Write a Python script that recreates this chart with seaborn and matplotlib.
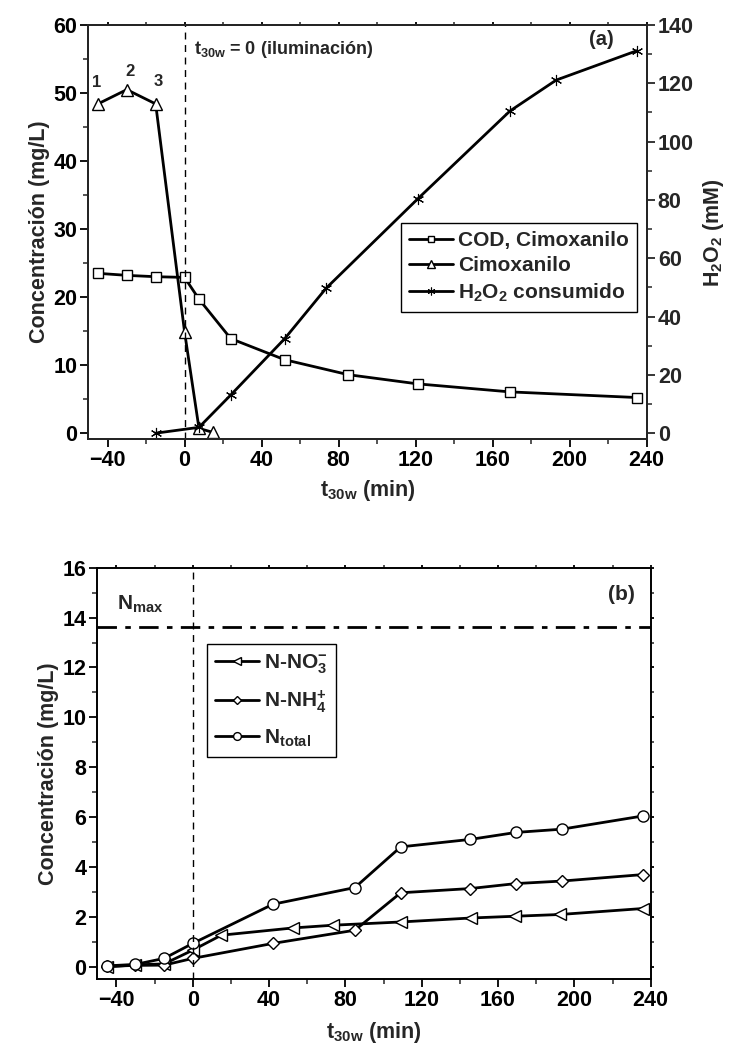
import matplotlib
matplotlib.use("Agg")
import matplotlib.pyplot as plt
import seaborn as sns
from matplotlib.ticker import MultipleLocator

# ---------------- data ----------------
# Panel (a)
t_cod = [-45, -30, -15, 0, 7.5, 24, 52, 85, 121, 169, 235]
cod = [23.5, 23.2, 23.0, 22.9, 19.7, 13.9, 10.8, 8.6, 7.25, 6.07, 5.24]

t_cimox = [-45, -30, -15, 0, 7.5, 15]
cimox = [48.4, 50.5, 48.4, 14.9, 0.7, 0.1]

t_h2o2 = [-15, 7.5, 24, 52, 73.5, 121, 169, 193, 235]
h2o2 = [0.0, 2.0, 13.1, 32.4, 49.7, 80.3, 110.5, 121.1, 131.2]

# Panel (b)
t_no3 = [-45, -30, -15, 0, 15, 52.5, 73.5, 109, 146, 169, 192.5, 236]
n_no3 = [0.0, 0.08, 0.12, 0.67, 1.27, 1.56, 1.67, 1.80, 1.96, 2.03, 2.10, 2.34]

t_nh4 = [-45, -30, -15, 0, 42, 85, 109, 145.5, 169.5, 193.5, 236]
n_nh4 = [0.02, 0.06, 0.07, 0.34, 0.94, 1.47, 2.97, 3.14, 3.34, 3.44, 3.70]

t_ntot = [-45, -30, -15, 0, 42, 85, 109, 145.5, 169.5, 193.5, 236]
n_tot = [0.04, 0.10, 0.34, 0.94, 2.51, 3.18, 4.81, 5.11, 5.39, 5.52, 6.05]

n_max = 13.63
point_labels = ["1", "2", "3"]

# ---------------- style ----------------
sns.set_style("ticks")
plt.rcParams["font.family"] = ["Liberation Sans", "DejaVu Sans"]
plt.rcParams["font.weight"] = "bold"
plt.rcParams["axes.labelweight"] = "bold"
plt.rcParams["mathtext.fontset"] = "custom"
plt.rcParams["mathtext.rm"] = "Liberation Sans:bold"
plt.rcParams["mathtext.it"] = "Liberation Sans:bold"
plt.rcParams["mathtext.bf"] = "Liberation Sans:bold"
plt.rcParams["mathtext.sf"] = "Liberation Sans:bold"
plt.rcParams["mathtext.default"] = "regular"

FS_TICK = 15.5
FS_LAB = 15.5
FS_LEG = 15
LW = 2.0
MS = 7

fig = plt.figure(figsize=(7.35, 10.55), dpi=100)


def style_axis(ax, xmaj, xmin, ymaj, ymin):
    ax.xaxis.set_major_locator(MultipleLocator(xmaj))
    ax.xaxis.set_minor_locator(MultipleLocator(xmin))
    ax.yaxis.set_major_locator(MultipleLocator(ymaj))
    ax.yaxis.set_minor_locator(MultipleLocator(ymin))
    ax.tick_params(which="major", direction="out", length=6, width=1.3,
                   labelsize=FS_TICK, colors="black", pad=2)
    ax.tick_params(which="minor", direction="out", length=3.5, width=1.1)
    for sp in ax.spines.values():
        sp.set_linewidth(1.4)
        sp.set_color("black")
        sp.set_visible(True)
    for lab in ax.get_xticklabels() + ax.get_yticklabels():
        lab.set_fontweight("bold")


def add_top_ticks(ax):
    # short unlabeled ticks along the top spine
    ax.tick_params(axis="x", which="both", top=True, labeltop=False)
    for tk in ax.xaxis.get_major_ticks() + ax.xaxis.get_minor_ticks():
        tk.tick2line.set_markersize(2.5)


# ---------------- panel (a) ----------------
axA = fig.add_axes([0.1201, 0.5836, 0.7597, 0.3927])
axA2 = axA.twinx()

sns.lineplot(x=t_cod, y=cod, ax=axA, color="black", lw=LW, marker="s",
             ms=MS, mfc="white", mec="black", mew=1.0,
             label="COD, Cimoxanilo", legend=False, sort=False)
sns.lineplot(x=t_cimox, y=cimox, ax=axA, color="black", lw=LW, marker="^",
             ms=MS + 2, mfc="white", mec="black", mew=1.0,
             label="Cimoxanilo", legend=False, sort=False)
sns.lineplot(x=t_h2o2, y=h2o2, ax=axA2, color="black", lw=LW, marker=(6, 2, 0),
             ms=MS + 1, mfc="black", mec="black", mew=0.8,
             label="H$_2$O$_2$ consumido", legend=False, sort=False)

axA.axvline(0, color="black", lw=1.0, ls=(0, (5, 4)))

axA.set_xlim(-50, 240)
axA.set_ylim(-0.9, 60)
axA2.set_ylim(-0.9 * 140 / 60, 140)

style_axis(axA, 40, 20, 10, 5)
axA.tick_params(axis="y", which="both", right=False)
add_top_ticks(axA)
axA2.yaxis.set_major_locator(MultipleLocator(20))
axA2.yaxis.set_minor_locator(MultipleLocator(10))
axA2.tick_params(axis="y", which="major", direction="out", length=6, width=1.3,
                 labelsize=FS_TICK, pad=2)
axA2.tick_params(axis="y", which="minor", direction="out", length=3.5, width=1.1)
for lab in axA2.get_yticklabels():
    lab.set_fontweight("bold")
for sp in axA2.spines.values():
    sp.set_linewidth(1.4)

axA.set_xlabel("t$_{30w}$ (min)", fontsize=FS_LAB, fontweight="bold", labelpad=5)
axA.set_ylabel("Concentración (mg/L)", fontsize=FS_LAB, fontweight="bold", labelpad=2)
axA2.set_ylabel("H$_2$O$_2$ (mM)", fontsize=FS_LAB, fontweight="bold", labelpad=5)

axA.text(4.7, 56.4, "t$_{30w}$ = 0 (iluminación)", fontsize=13, fontweight="bold",
         ha="left", va="center")
axA.text(216.4, 57.8, "(a)", fontsize=14.5, fontweight="bold", ha="center", va="center")
for lab, xx, yy in zip(point_labels, [-45.7, -28.5, -13.8], [51.6, 53.2, 51.7]):
    axA.text(xx, yy, lab, fontsize=12, fontweight="bold", ha="center", va="center")

hA1, lA1 = axA.get_legend_handles_labels()
hA2, lA2 = axA2.get_legend_handles_labels()
legA = axA2.legend(hA1 + hA2, lA1 + lA2, loc="upper right",
                   bbox_to_anchor=(0.983, 0.523), borderaxespad=0,
                   frameon=True, fancybox=False, edgecolor="black",
                   framealpha=1, fontsize=FS_LEG, handlelength=2.1,
                   handletextpad=0.25, borderpad=0.4, labelspacing=0.3,
                   markerscale=0.7)
legA.get_frame().set_linewidth(1.0)
for t in legA.get_texts():
    t.set_fontweight("bold")

# ---------------- panel (b) ----------------
axB = fig.add_axes([0.1324, 0.0717, 0.7529, 0.3902])

sns.lineplot(x=t_no3, y=n_no3, ax=axB, color="black", lw=LW, marker="<",
             ms=MS + 2, mfc="white", mec="black", mew=1.0,
             label="N-NO$_3^{-}$", legend=False, sort=False)
sns.lineplot(x=t_nh4, y=n_nh4, ax=axB, color="black", lw=LW, marker="D",
             ms=MS - 0.5, mfc="white", mec="black", mew=1.0,
             label="N-NH$_4^{+}$", legend=False, sort=False)
sns.lineplot(x=t_ntot, y=n_tot, ax=axB, color="black", lw=LW, marker="o",
             ms=MS + 1, mfc="white", mec="black", mew=1.0,
             label="N$_{total}$", legend=False, sort=False)

axB.axvline(0, color="black", lw=1.0, ls=(0, (5, 4)))
axB.axhline(n_max, color="black", lw=2.0, ls=(0, (7, 3, 2, 3)))

axB.set_xlim(-50, 240)
axB.set_ylim(-0.5, 16)
style_axis(axB, 40, 20, 2, 1)
add_top_ticks(axB)
axB.tick_params(axis="y", which="both", right=True, labelright=False)
for tk in axB.yaxis.get_major_ticks() + axB.yaxis.get_minor_ticks():
    tk.tick2line.set_markersize(2.5)

axB.set_xlabel("t$_{30w}$ (min)", fontsize=FS_LAB, fontweight="bold", labelpad=6)
axB.set_ylabel("Concentración (mg/L)", fontsize=FS_LAB, fontweight="bold", labelpad=2)

axB.text(-39.5, 14.55, "N$_{max}$", fontsize=15, fontweight="bold",
         ha="left", va="center")
axB.text(224.7, 14.93, "(b)", fontsize=15, fontweight="bold",
         ha="center", va="center")

legB = axB.legend(loc="upper left", bbox_to_anchor=(0.1977, 0.8146),
                  borderaxespad=0, frameon=True, fancybox=False,
                  edgecolor="black", framealpha=1, fontsize=FS_LEG,
                  handlelength=2.1, handletextpad=0.25, borderpad=0.4,
                  labelspacing=0.6, markerscale=0.7)
legB.get_frame().set_linewidth(1.0)
for t in legB.get_texts():
    t.set_fontweight("bold")

fig.savefig("out.png", dpi=100)
